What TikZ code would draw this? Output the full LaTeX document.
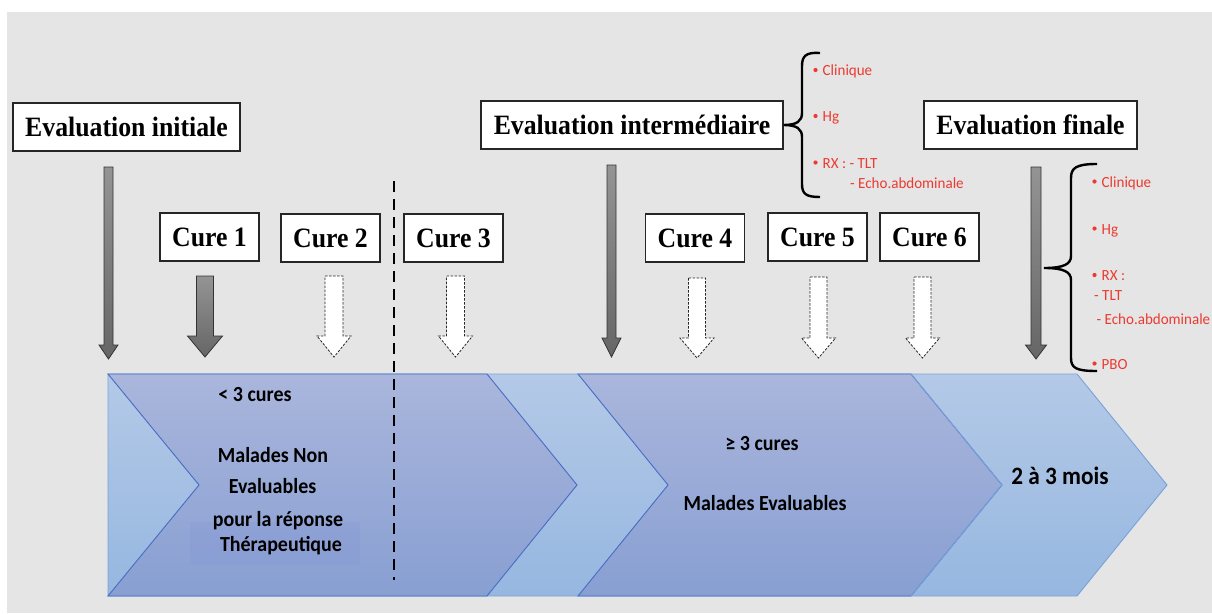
\documentclass[tikz,border=0pt]{standalone}
\usepackage{fontspec}
\newfontfamily\boxfont[FakeStretch=0.92]{Liberation Serif}
\newfontfamily\calfont[FakeStretch=0.97]{Carlito}
\newfontfamily\calbfont[FakeStretch=0.93]{Carlito}
\definecolor{bggray}{RGB}{229,229,229}
\definecolor{darkT}{RGB}{170,182,220}
\definecolor{darkB}{RGB}{136,159,210}
\definecolor{lightT}{RGB}{180,201,231}
\definecolor{lightB}{RGB}{150,183,224}
\definecolor{darkline}{RGB}{72,108,196}
\definecolor{lightline}{RGB}{120,162,218}
\definecolor{redtxt}{RGB}{236,58,48}
\newcommand\blockarr[7]{%
  \draw[#1] (#2-#6,#3) -- (#2+#6,#3) -- (#2+#6,#4) -- (#2+#7,#4) -- (#2,#5) -- (#2-#7,#4) -- (#2-#6,#4) -- cycle;}
\newcommand\bulletat[1]{\fill[redtxt] ([xshift=-7pt,yshift=5.5pt]#1.base west) circle (2.1pt);}
\tikzset{
  ebox/.style={draw=black!85, line width=1.3pt, fill=white, inner sep=0pt,
    minimum height=48pt, font=\boxfont\bfseries\fontsize{28}{30}\selectfont},
  curebox/.style={ebox, minimum width=99pt},
  garrow/.style={draw=black!80, line width=0.8pt, top color=black!42, bottom color=black!60},
  darrow/.style={draw=black!85, line width=0.8pt, fill=white, dash pattern=on 2.5pt off 1.5pt},
  redlist/.style={anchor=base west, inner sep=0pt, text=redtxt, font=\calfont\fontsize{15.5}{17}\selectfont},
  chevtxt/.style={anchor=base, inner sep=0pt, font=\calbfont\bfseries\fontsize{21.5}{23}\selectfont},
  bracestyle/.style={line width=2.4pt, black}
}
\begin{document}
\begin{tikzpicture}[x=1pt,y=-1pt]
\useasboundingbox (0,0) rectangle (1212,613);
\fill[white] (0,0) rectangle (1212,613);
\fill[bggray] (7,12) rectangle (1212,613);

% chevron band
\shadedraw[top color=lightT, bottom color=lightB, draw=lightline, line width=0.9pt]
  (108,374) -- (1077,374) -- (1167,485) -- (1077,596) -- (108,596) -- cycle;
\shadedraw[top color=darkT, bottom color=darkB, draw=darkline, line width=0.9pt]
  (108,374) -- (487,374) -- (577,485) -- (487,596) -- (108,596) -- (199,485) -- cycle;
\shadedraw[top color=darkT, bottom color=darkB, draw=darkline, line width=0.9pt]
  (578,374) -- (911,374) -- (1002,485) -- (911,596) -- (578,596) -- (668,485) -- cycle;
\draw[lightline, line width=0.9pt] (911,374) -- (1002,485) -- (911,596);
\fill[blue!40!darkB, fill opacity=0.06] (190,522) rectangle (360,565);

% dashed separator
\draw[black, line width=2.4pt, dash pattern=on 11pt off 7pt] (394,181) -- (394,580);

% boxes
\node[ebox, minimum width=227pt] (ei) at (126.5,127) {Evaluation initiale};
\node[ebox, minimum width=302pt] (em) at (632,125) {Evaluation intermédiaire};
\node[ebox, minimum width=213pt] (ef) at (1030.5,125) {Evaluation finale};
\node[curebox] (c1) at (209.5,237) {Cure 1};
\node[curebox] (c2) at (330.5,238) {Cure 2};
\node[curebox] (c3) at (453.5,238) {Cure 3};
\node[curebox] (c4) at (695,238) {Cure 4};
\node[curebox] (c5) at (817.5,237) {Cure 5};
\node[curebox] (c6) at (929.5,237) {Cure 6};

% block arrows
\blockarr{garrow}{108.5}{167}{345}{359}{4.5}{9.5}
\blockarr{garrow}{205}{276}{336}{357}{8.5}{17.5}
\blockarr{darrow}{334}{276}{336}{357}{9}{17}
\blockarr{darrow}{455.5}{276}{336}{357}{9}{17}
\blockarr{garrow}{611.5}{165}{338}{357}{4.5}{9.5}
\blockarr{darrow}{697}{278}{338}{358}{8.5}{17}
\blockarr{darrow}{818.5}{277}{338}{358}{8.5}{17}
\blockarr{darrow}{922.5}{277}{338}{358}{8.5}{17}
\blockarr{garrow}{1036}{167}{345}{359}{5}{10.5}

% braces
\draw[bracestyle] (820,53) .. controls (806,52) and (802,56) .. (802,66) -- (802,113)
  .. controls (802,121) and (797,125) .. (em.east)
  .. controls (797,125) and (802,129) .. (802,137) -- (802,184)
  .. controls (802,194) and (806,197) .. (820,197);
\coordinate (fb) at (1044,268);
\draw[bracestyle] (1097,164) .. controls (1076,164) and (1071,168) .. (1071,178) -- (1071,256)
  .. controls (1071,264) and (1064,268) .. (fb)
  .. controls (1064,268) and (1071,272) .. (1071,280) -- (1071,358)
  .. controls (1071,368) and (1076,371) .. (1097,371);

% intermediate list
\node[redlist] (i1) at (822.5,75.5) {Clinique};
\node[redlist] (i2) at (822.5,121.5) {Hg};
\node[redlist] (i3) at (822.5,168) {RX : - TLT};
\node[redlist] (i4) at (850,188.5) {- Echo.abdominale};
\bulletat{i1}\bulletat{i2}\bulletat{i3}

% final list
\node[redlist] (f1) at (1101.5,187) {Clinique};
\node[redlist] (f2) at (1101.5,234) {Hg};
\node[redlist] (f3) at (1101.5,280.5) {RX :};
\node[redlist] (f4) at (1094,300.5) {- TLT};
\node[redlist] (f5) at (1096.5,324) {- Echo.abdominale};
\node[redlist] (f6) at (1101.5,369) {PBO};
\bulletat{f1}\bulletat{f2}\bulletat{f3}\bulletat{f6}

% chevron texts
\node[chevtxt] (t1) at (255,401.5) {< 3 cures};
\node[chevtxt] (t2) at (273,462.5) {Malades Non};
\node[chevtxt] (t3) at (272.5,493) {Evaluables};
\node[chevtxt] (t4) at (278,526.5) {pour la réponse};
\node[chevtxt] (t5) at (281,551.5) {Thérapeutique};
\node[chevtxt] (t6) at (762,450) {≥ 3 cures};
\node[chevtxt] (t7) at (765,510) {Malades Evaluables};
\node[chevtxt, font=\calbfont\bfseries\fontsize{25}{26}\selectfont] (t8) at (1060,484) {2 à 3 mois};
\end{tikzpicture}
\end{document}
